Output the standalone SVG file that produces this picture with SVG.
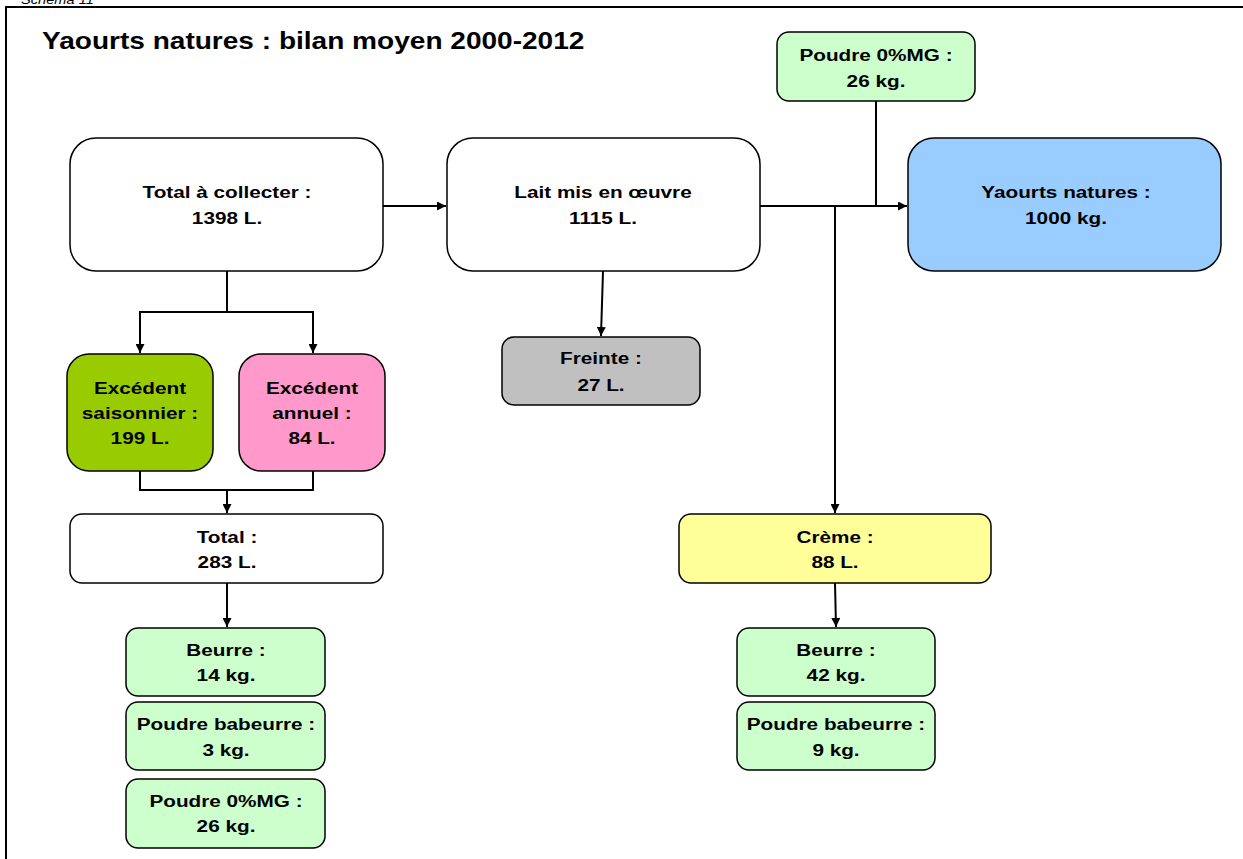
<svg xmlns="http://www.w3.org/2000/svg" width="1243" height="859" viewBox="0 0 1243 859">
<style>
.box{stroke:#000;stroke-width:1.5}
.t{font-family:"Liberation Sans",Arial,sans-serif;font-weight:bold;font-size:17px;text-anchor:middle;fill:#000}
.c{fill:none;stroke:#000;stroke-width:2}
</style>
<defs>
<marker id="ah" viewBox="0 0 10 10" refX="10" refY="5" markerWidth="9" markerHeight="9" markerUnits="userSpaceOnUse" orient="auto">
<path d="M0,0 L10,5 L0,10 z" fill="#000"/>
</marker>
</defs>
<rect width="1243" height="859" fill="#fff"/>
<text transform="translate(21 4) scale(1.22 1)" font-family="Liberation Sans,Arial,sans-serif" font-style="italic" font-size="12" fill="#000">Schéma 11</text>
<path d="M6,859 V7 H1243" fill="none" stroke="#000" stroke-width="2"/>
<text transform="translate(42 49) scale(1.22 1)" font-family="Liberation Sans,Arial,sans-serif" font-weight="bold" font-size="23" fill="#000">Yaourts natures : bilan moyen 2000-2012</text>

<g id="connectors">
<path class="c" d="M383,206 H446" marker-end="url(#ah)"/>
<path class="c" d="M760,206 H907" marker-end="url(#ah)"/>
<path class="c" d="M876,101 V206"/>
<path class="c" d="M835,206 V513" marker-end="url(#ah)"/>
<path class="c" d="M603,271 L601,336" marker-end="url(#ah)"/>
<path class="c" d="M227,271 V312 H140 V353" marker-end="url(#ah)"/>
<path class="c" d="M227,312 H313 V353" marker-end="url(#ah)"/>
<path class="c" d="M140,471 V490 H313 V471"/>
<path class="c" d="M227,490 V513" marker-end="url(#ah)"/>
<path class="c" d="M227,583 V627" marker-end="url(#ah)"/>
<path class="c" d="M835,583 L836,627" marker-end="url(#ah)"/>
</g>

<g id="total-collecter">
<rect class="box" x="70" y="138" width="313" height="133" rx="26" fill="#fff"/>
<text class="t" transform="translate(227 198) scale(1.22 1)">Total à collecter :</text>
<text class="t" transform="translate(227 224) scale(1.22 1)">1398 L.</text>
</g>
<g id="lait">
<rect class="box" x="447" y="138" width="313" height="133" rx="26" fill="#fff"/>
<text class="t" transform="translate(603 198) scale(1.22 1)">Lait mis en œuvre</text>
<text class="t" transform="translate(603 224) scale(1.22 1)">1115 L.</text>
</g>
<g id="yaourts">
<rect class="box" x="908" y="138" width="313" height="133" rx="26" fill="#99CCFF"/>
<text class="t" transform="translate(1066 198) scale(1.22 1)">Yaourts natures :</text>
<text class="t" transform="translate(1066 224) scale(1.22 1)">1000 kg.</text>
</g>
<g id="poudre-top">
<rect class="box" x="777" y="32" width="198" height="69" rx="12" fill="#CCFFCC"/>
<text class="t" transform="translate(876 61) scale(1.22 1)">Poudre 0%MG :</text>
<text class="t" transform="translate(876 87) scale(1.22 1)">26 kg.</text>
</g>
<g id="freinte">
<rect class="box" x="502" y="337" width="198" height="68" rx="12" fill="#C0C0C0"/>
<text class="t" transform="translate(601 364) scale(1.22 1)">Freinte :</text>
<text class="t" transform="translate(601 391) scale(1.22 1)">27 L.</text>
</g>
<g id="excedent-saisonnier">
<rect class="box" x="67" y="354" width="146" height="117" rx="22" fill="#99CC00"/>
<text class="t" transform="translate(140 394) scale(1.22 1)">Excédent</text>
<text class="t" transform="translate(140 419) scale(1.22 1)">saisonnier :</text>
<text class="t" transform="translate(140 444) scale(1.22 1)">199 L.</text>
</g>
<g id="excedent-annuel">
<rect class="box" x="239" y="354" width="146" height="117" rx="22" fill="#FF99CC"/>
<text class="t" transform="translate(312 394) scale(1.22 1)">Excédent</text>
<text class="t" transform="translate(312 419) scale(1.22 1)">annuel :</text>
<text class="t" transform="translate(312 444) scale(1.22 1)">84 L.</text>
</g>
<g id="total">
<rect class="box" x="70" y="514" width="313" height="69" rx="12" fill="#fff"/>
<text class="t" transform="translate(227 543) scale(1.22 1)">Total :</text>
<text class="t" transform="translate(227 568) scale(1.22 1)">283 L.</text>
</g>
<g id="beurre-14">
<rect class="box" x="126" y="628" width="199" height="68" rx="12" fill="#CCFFCC"/>
<text class="t" transform="translate(226 656) scale(1.22 1)">Beurre :</text>
<text class="t" transform="translate(226 681) scale(1.22 1)">14 kg.</text>
</g>
<g id="babeurre-3">
<rect class="box" x="126" y="702" width="199" height="68" rx="12" fill="#CCFFCC"/>
<text class="t" transform="translate(226 730) scale(1.22 1)">Poudre babeurre :</text>
<text class="t" transform="translate(226 756) scale(1.22 1)">3 kg.</text>
</g>
<g id="poudre-26">
<rect class="box" x="126" y="779" width="199" height="69" rx="12" fill="#CCFFCC"/>
<text class="t" transform="translate(226 807) scale(1.22 1)">Poudre 0%MG :</text>
<text class="t" transform="translate(226 832) scale(1.22 1)">26 kg.</text>
</g>
<g id="creme">
<rect class="box" x="679" y="514" width="312" height="69" rx="12" fill="#FFFF99"/>
<text class="t" transform="translate(835 543) scale(1.22 1)">Crème :</text>
<text class="t" transform="translate(835 568) scale(1.22 1)">88 L.</text>
</g>
<g id="beurre-42">
<rect class="box" x="737" y="628" width="198" height="68" rx="12" fill="#CCFFCC"/>
<text class="t" transform="translate(836 656) scale(1.22 1)">Beurre :</text>
<text class="t" transform="translate(836 681) scale(1.22 1)">42 kg.</text>
</g>
<g id="babeurre-9">
<rect class="box" x="737" y="702" width="198" height="68" rx="12" fill="#CCFFCC"/>
<text class="t" transform="translate(836 730) scale(1.22 1)">Poudre babeurre :</text>
<text class="t" transform="translate(836 756) scale(1.22 1)">9 kg.</text>
</g>
</svg>
